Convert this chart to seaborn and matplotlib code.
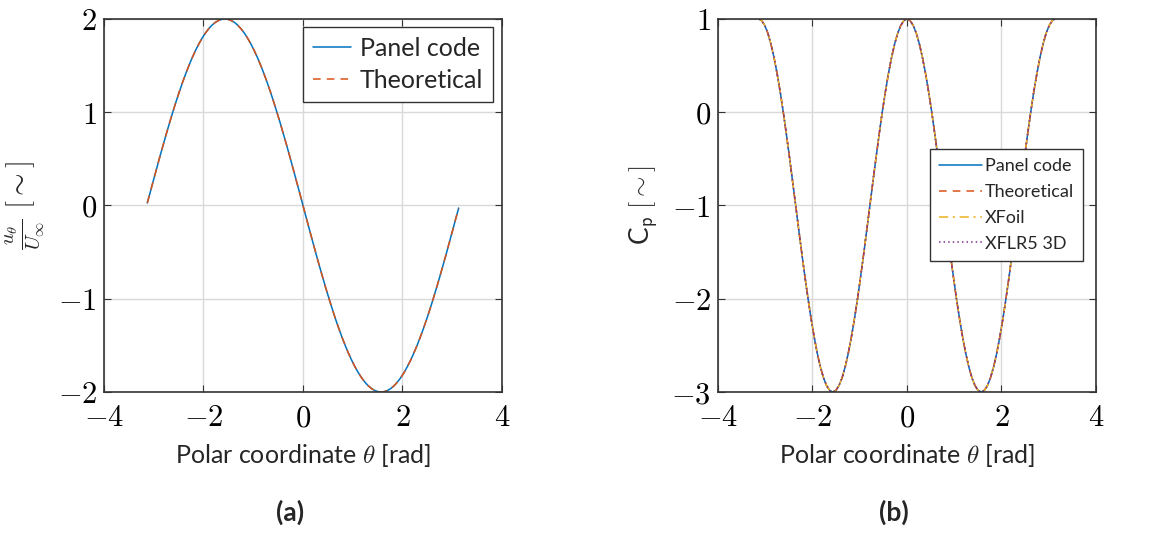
import pandas as pd
import matplotlib
matplotlib.use("Agg")
import matplotlib.pyplot as plt
import seaborn as sns

# polar coordinate samples (rad)
theta = [-3.130, -3.076, -3.011, -2.945, -2.880, -2.814, -2.749, -2.683, -2.618,
         -2.553, -2.487, -2.422, -2.356, -2.291, -2.225, -2.160, -2.094, -2.029,
         -1.963, -1.898, -1.833, -1.767, -1.702, -1.636, -1.571, -1.505, -1.440,
         -1.374, -1.309, -1.244, -1.178, -1.113, -1.047, -0.982, -0.916, -0.851,
         -0.785, -0.720, -0.654, -0.589, -0.524, -0.458, -0.393, -0.327, -0.262,
         -0.196, -0.131, -0.065, 0.0,
         0.065, 0.131, 0.196, 0.262, 0.327, 0.393, 0.458, 0.524, 0.589, 0.654,
         0.720, 0.785, 0.851, 0.916, 0.982, 1.047, 1.113, 1.178, 1.244, 1.309,
         1.374, 1.440, 1.505, 1.571, 1.636, 1.702, 1.767, 1.833, 1.898, 1.963,
         2.029, 2.094, 2.160, 2.225, 2.291, 2.356, 2.422, 2.487, 2.553, 2.618,
         2.683, 2.749, 2.814, 2.880, 2.945, 3.011, 3.076, 3.130]

# tangential velocity u_theta / U_inf
u_ratio = [0.027, 0.131, 0.261, 0.390, 0.518, 0.643, 0.765, 0.885, 1.0,
           1.111, 1.218, 1.319, 1.414, 1.504, 1.587, 1.663, 1.732, 1.794,
           1.848, 1.894, 1.932, 1.962, 1.983, 1.996, 2.0, 1.996, 1.983,
           1.962, 1.932, 1.894, 1.848, 1.794, 1.732, 1.663, 1.587, 1.504,
           1.414, 1.319, 1.218, 1.111, 1.0, 0.885, 0.765, 0.643, 0.518,
           0.390, 0.261, 0.131, 0.0,
           -0.131, -0.261, -0.390, -0.518, -0.643, -0.765, -0.885, -1.0, -1.111, -1.218,
           -1.319, -1.414, -1.504, -1.587, -1.663, -1.732, -1.794, -1.848, -1.894, -1.932,
           -1.962, -1.983, -1.996, -2.0, -1.996, -1.983, -1.962, -1.932, -1.894, -1.848,
           -1.794, -1.732, -1.663, -1.587, -1.504, -1.414, -1.319, -1.218, -1.111, -1.0,
           -0.885, -0.765, -0.643, -0.518, -0.390, -0.261, -0.131, -0.027]

# pressure coefficient
cp = [1.0, 0.983, 0.932, 0.848, 0.732, 0.587, 0.414, 0.218, 0.0,
      -0.235, -0.482, -0.739, -1.0, -1.261, -1.518, -1.765, -2.0, -2.218,
      -2.414, -2.587, -2.732, -2.848, -2.932, -2.983, -3.0, -2.983, -2.932,
      -2.848, -2.732, -2.587, -2.414, -2.218, -2.0, -1.765, -1.518, -1.261,
      -1.0, -0.739, -0.482, -0.235, 0.0, 0.218, 0.414, 0.587, 0.732,
      0.848, 0.932, 0.983, 1.0,
      0.983, 0.932, 0.848, 0.732, 0.587, 0.414, 0.218, 0.0, -0.235, -0.482,
      -0.739, -1.0, -1.261, -1.518, -1.765, -2.0, -2.218, -2.414, -2.587, -2.732,
      -2.848, -2.932, -2.983, -3.0, -2.983, -2.932, -2.848, -2.732, -2.587, -2.414,
      -2.218, -2.0, -1.765, -1.518, -1.261, -1.0, -0.739, -0.482, -0.235, 0.0,
      0.218, 0.414, 0.587, 0.732, 0.848, 0.932, 0.983, 1.0]

u_series = ["Panel code", "Theoretical"]
cp_series = ["Panel code", "Theoretical", "XFoil", "XFLR5 3D"]
colors = {"Panel code": "#0072BD", "Theoretical": "#D95319",
          "XFoil": "#EDB120", "XFLR5 3D": "#7E2F8E"}
dashes = {"Panel code": "", "Theoretical": (5, 4),
          "XFoil": (6, 3, 1.5, 3), "XFLR5 3D": (1, 2)}

sns.set_theme(style="whitegrid")
plt.rcParams["font.family"] = ["Lato", "DejaVu Sans"]
plt.rcParams["mathtext.fontset"] = "cm"

df_u = pd.concat([pd.DataFrame({"theta": theta, "val": u_ratio, "series": s})
                  for s in u_series], ignore_index=True)
df_cp = pd.concat([pd.DataFrame({"theta": theta, "val": cp, "series": s})
                   for s in cp_series], ignore_index=True)

fig = plt.figure(figsize=(11.62, 5.38), dpi=100)
ax1 = fig.add_axes([0.0895, 0.2714, 0.3425, 0.6933])
ax2 = fig.add_axes([0.6179, 0.2714, 0.3253, 0.6933])


def style_axes(ax, yticks):
    ax.set_xlim(-4, 4)
    ax.set_xticks([-4, -2, 0, 2, 4])
    ax.set_xticklabels([r"$%d$" % v for v in [-4, -2, 0, 2, 4]])
    ax.set_yticks(yticks)
    ax.set_yticklabels([r"$%d$" % v for v in yticks])
    ax.set_ylim(yticks[0], yticks[-1])
    ax.grid(True, color="#d9d9d9", linewidth=1)
    for sp in ax.spines.values():
        sp.set_color("#333333")
        sp.set_linewidth(1.2)
    ax.tick_params(direction="in", length=5, width=0.8, color="#333333",
                   top=True, right=True, bottom=True, left=True,
                   labelsize=22, labelcolor="black")
    ax.tick_params(axis="x", pad=8)
    ax.tick_params(axis="y", pad=5)
    ax.set_xlabel(r"Polar coordinate $\theta$ [rad]", fontsize=18, labelpad=8)


sns.lineplot(data=df_u, x="theta", y="val", hue="series", style="series",
             palette=colors, dashes=dashes, sort=False, linewidth=1.1, ax=ax1)
style_axes(ax1, [-2, -1, 0, 1, 2])
ax1.set_ylabel(r"$\frac{u_\theta}{U_\infty}\ [\sim]$", fontsize=21, labelpad=8)
leg1 = ax1.legend(loc="upper right", bbox_to_anchor=(1 - 9 / 398, 1 - 8 / 373),
                  borderaxespad=0, fontsize=18, fancybox=False, framealpha=1,
                  handlelength=1.5, handletextpad=0.35, borderpad=0.4,
                  labelspacing=0.35)
leg1.get_frame().set_edgecolor("#333333")
leg1.get_frame().set_linewidth(1.0)

sns.lineplot(data=df_cp, x="theta", y="val", hue="series", style="series",
             palette=colors, dashes=dashes, sort=False, linewidth=1.1, ax=ax2)
style_axes(ax2, [-3, -2, -1, 0, 1])
ax2.set_ylabel(r"C$_{\mathsf{p}}$ $[\sim]$", fontsize=19, labelpad=8)
leg2 = ax2.legend(loc="upper right", bbox_to_anchor=(0.9656, 0.6515),
                  borderaxespad=0, fontsize=13, fancybox=False, framealpha=1,
                  handlelength=2.4, handletextpad=0.15, borderpad=0.5,
                  labelspacing=0.55)
leg2.get_frame().set_edgecolor("#333333")
leg2.get_frame().set_linewidth(1.0)

fig.text(290 / 1162, 1 - 512 / 538, "(a)", ha="center", va="center",
         fontsize=19, fontweight="bold")
fig.text(894 / 1162, 1 - 512 / 538, "(b)", ha="center", va="center",
         fontsize=19, fontweight="bold")

fig.savefig("out.png", dpi=100, facecolor="white")
